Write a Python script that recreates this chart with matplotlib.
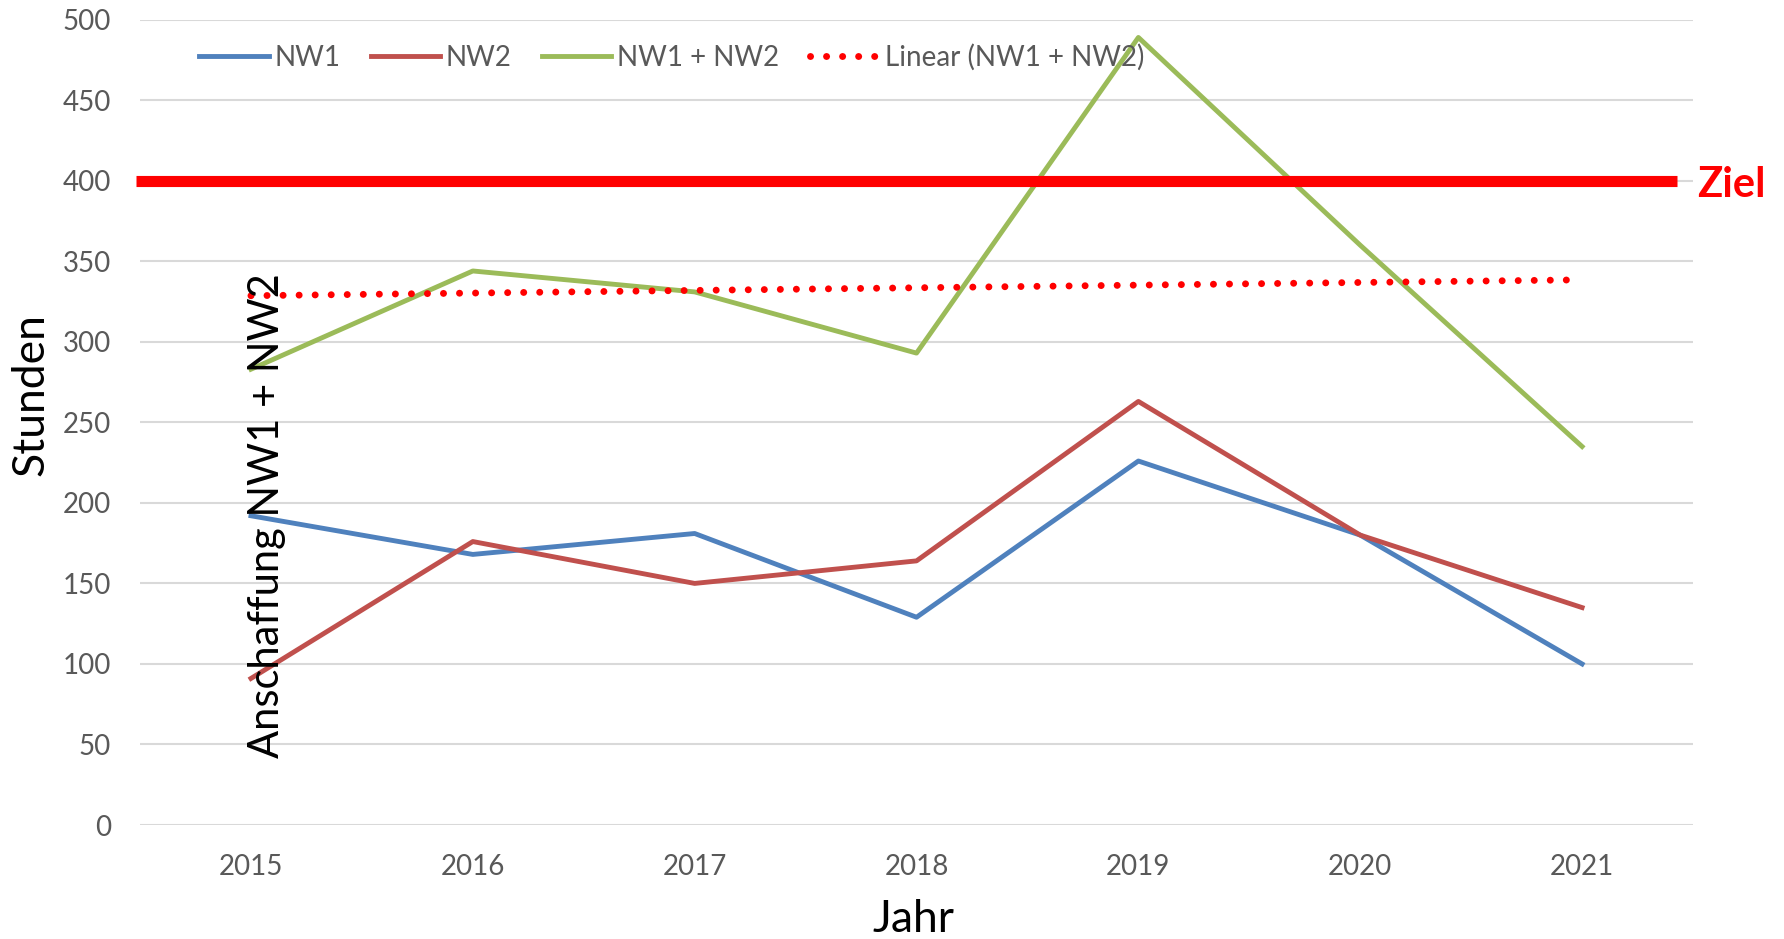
import numpy as np
import matplotlib.pyplot as plt

plt.rcParams['font.family'] = ['Lato', 'DejaVu Sans']

# data
jahre = ['2015', '2016', '2017', '2018', '2019', '2020', '2021']
nw1 = [192, 168, 181, 129, 226, 180, 100]
nw2 = [91, 176, 150, 164, 263, 180, 135]
ziel = 400

summe = [a + b for a, b in zip(nw1, nw2)]
x = np.arange(len(jahre))

# linear trend of the sum, like the Excel trendline
k, d = np.polyfit(x, summe, 1)
trend = k * x + d

fig = plt.figure(figsize=(17.84, 9.39), dpi=100)
ax = fig.add_axes([0.0785, 0.1214, 0.8705, 0.8576])

grau = '#595959'
ax.plot(x, nw1, color='#4F81BD', linewidth=3.5, label='NW1', zorder=3)
ax.plot(x, nw2, color='#C0504D', linewidth=3.5, label='NW2', zorder=3)
ax.plot(x, summe, color='#9BBB59', linewidth=3.5, label='NW1 + NW2', zorder=3)
ax.plot(x, trend, color='#FF0000', linewidth=5, linestyle=(0, (0.01, 2.3)),
        dash_capstyle='round', label='Linear (NW1 + NW2)', zorder=3)

# target line
ax.plot([-0.52, 6.43], [ziel, ziel], color='#FF0000', linewidth=8,
        solid_capstyle='butt', clip_on=False, zorder=4)
ax.annotate('Ziel', xy=(6.52, ziel), xytext=(0, -3), textcoords='offset points',
            color='#FF0000', fontsize=30, fontweight='bold', va='center', ha='left',
            annotation_clip=False)

ax.text(0.072, 192, 'Anschaffung NW1 + NW2', rotation=90, fontsize=30,
        ha='center', va='center', color='black', zorder=5)

ax.set_xlim(-0.5, len(jahre) - 0.5)
ax.set_ylim(0, 500)
ax.set_yticks(range(0, 501, 50))
ax.set_xticks(x)
ax.set_xticklabels(jahre)
ax.tick_params(length=0, labelsize=20, labelcolor=grau)
ax.tick_params(axis='y', pad=21)
ax.tick_params(axis='x', pad=21)
ax.grid(axis='y', color='#D9D9D9', linewidth=1.5)
ax.set_axisbelow(True)
for s in ax.spines.values():
    s.set_visible(False)

fig.text(0.0174, 0.58, 'Stunden', rotation=90, fontsize=32, ha='center', va='center')
fig.text(0.512, 0.021, 'Jahr', fontsize=32, ha='center', va='center')

leg = ax.legend(ncol=4, loc='center left', bbox_to_anchor=(0.038, 0.953),
                frameon=False, fontsize=20, handlelength=2.5, handletextpad=0.2,
                columnspacing=1.1, borderpad=0, borderaxespad=0)
for t in leg.get_texts():
    t.set_color(grau)

fig.savefig('out.png', dpi=100)
